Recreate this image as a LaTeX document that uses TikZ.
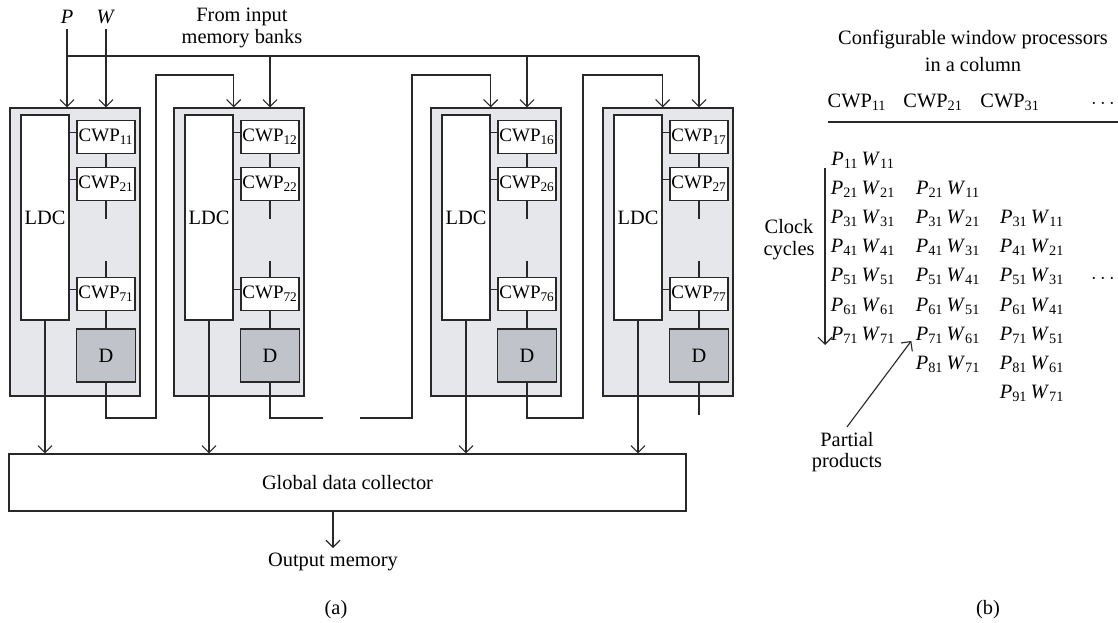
\documentclass[tikz,border=0pt]{standalone}
\usepackage{fontspec}
\setmainfont{Liberation Serif}
\usepackage{tikz}
\usetikzlibrary{arrows.meta,positioning,calc}
\definecolor{lnGray}{RGB}{40,40,40}
\definecolor{modFill}{RGB}{230,231,234}
\definecolor{dFill}{RGB}{192,196,202}
\newcommand{\pxl}[1]{#1*0.025cm}
\tikzset{
  wire/.style={line width=0.8pt, lnGray},
  arr/.style={-{Straight Barb[length=5pt,width=10pt]}, line width=0.8pt, lnGray},
  modbox/.style={draw=lnGray, fill=modFill, line width=0.9pt, inner sep=0pt,
    minimum width=\pxl{130}, minimum height=\pxl{288}},
  ldcbox/.style={draw=lnGray, fill=white, line width=0.9pt, inner sep=0pt,
    minimum width=\pxl{48}, minimum height=\pxl{205}},
  cwpbox/.style={draw=lnGray, fill=white, line width=0.9pt, inner sep=0pt,
    minimum width=\pxl{58}, minimum height=\pxl{33}, font=\fontsize{13.5}{15}\selectfont},
  dbox/.style={draw=lnGray, fill=dFill, line width=0.9pt, inner sep=0pt,
    minimum width=\pxl{59}, minimum height=\pxl{53}},
  gdcbox/.style={draw=lnGray, line width=0.9pt, inner sep=0pt,
    minimum width=\pxl{677}, minimum height=\pxl{57}},
  pwcell/.style={inner sep=1pt},
}

\begin{document}
\begin{tikzpicture}[x=0.025cm, y=-0.025cm, font=\fontsize{14.5}{15.5}\selectfont]
  \useasboundingbox (0,0) rectangle (1118,623);
  % inputs
  \node (plab) at (67,17) {\textit{P}};
  \node (wlab) at (106,17) {\textit{W}};
  \node[align=center] (src) at (242,28) {From input\\memory banks};
  % the columns
  \foreach \i/\xo/\ca/\cb/\cc in {1/10/11/21/71,2/174/12/22/72,3/431/16/26/76,4/603/17/27/77} {
    \node[modbox] (m\i) at ({\xo+65},252) {};
    \node[ldcbox] (l\i) at ({\xo+35},217.5) {LDC};
    \node[cwpbox] (ca\i) at ({\xo+96},137) {CWP\textsubscript{\ca}};
    \node[cwpbox] (cb\i) at ({\xo+96},184) {CWP\textsubscript{\cb}};
    \node[cwpbox] (cc\i) at ({\xo+96},294) {CWP\textsubscript{\cc}};
    \node[dbox] (d\i) at ({\xo+96},355.5) {D};
    \draw[wire] (ca\i) -- (cb\i);
    \draw[wire] (cb\i.south) -- ++(0,18);
    \draw[wire] (cc\i.north) -- ++(0,-16);
    \draw[wire] (cc\i) -- (d\i);
    \foreach \cw in {ca,cb,cc} {
      \coordinate (t) at ([yshift=3pt]\cw\i.west);
      \draw[wire] (t) -- (t -| l\i.east);
    }
  }
  \draw[arr] (plab.south) -- (plab.south |- m1.north);
  \draw[arr] (wlab.south) -- (wlab.south |- m1.north);
  % bus from the memory banks
  \coordinate (bus0) at (67,56);
  \draw[wire] (bus0) -- (ca4.north |- bus0);
  \foreach \i in {2,3,4}
    \draw[arr] (ca\i.north |- bus0) -- (ca\i.north |- m\i.north);
  % delayed data to the next column
  \coordinate (fb2) at (156,418);
  \coordinate (ft2) at (156,75);
  \draw[arr] (d1.south) |- (fb2) -- (ft2) -| (l2.east |- m2.north);
  \coordinate (g1) at (323,418);
  \coordinate (g2) at (360,418);
  \draw[wire] (d2.south) |- (g1);
  \coordinate (fb3) at (412,418);
  \coordinate (ft3) at (412,75);
  \draw[arr] (g2) -- (fb3) -- (ft3) -| (l3.east |- m3.north);
  \coordinate (fb4) at (583,418);
  \coordinate (ft4) at (583,75);
  \draw[arr] (d3.south) |- (fb4) -- (ft4) -| (l4.east |- m4.north);
  \coordinate (g3) at (699,415);
  \draw[wire] (d4.south) -- (g3);
  % collector
  \node[gdcbox] (gdc) at (347.5,482.5) {Global data collector};
  \foreach \i in {1,...,4}
    \draw[arr] (l\i.south) -- (l\i.south |- gdc.north);
  \node (out) at (333,562) {Output memory};
  \draw[arr] (out.north |- gdc.south) -- (out.north);
  \node (capa) at (336,610) {(a)};

  % (b) schedule
  \node[align=center] (cfg) at (973,51) {Configurable window processors\\[4pt]in a column};
  \node (h1) at (857,102) {CWP\textsubscript{11}};
  \node (h2) at (933,102) {CWP\textsubscript{21}};
  \node (h3) at (1010,102) {CWP\textsubscript{31}};
  \node (hd) at (1103,104) {$\cdots$};
  \coordinate (rl) at (828,122);
  \coordinate (rr) at (1118,122);
  \draw[wire] (rl) -- (rr);
  \foreach \col/\cx in {1/863,2/948,3/1032}
    \foreach \k in {1,...,7} {
      \pgfmathtruncatemacro{\rowno}{\k+\col-1}
      \node[pwcell] (pw\col\k) at (\cx,{160+29.2*(\rowno-1)})
        {\textit{P}\textsubscript{\rowno1}\,\textit{W}\textsubscript{\k1}};
    }
  \node (rd) at (1103,279) {$\cdots$};
  \node[align=center] (clk) at (789,240) {Clock\\cycles};
  \coordinate (ck0) at (825,168);
  \coordinate (ck1) at (825,345);
  \draw[arr] (ck0) -- (ck1);
  \node[align=center] (pp) at (847,452) {Partial\\products};
  \draw[arr] (pp.north) -- ([shift={(-2pt,3pt)}]pw26.south west);
  \node (capb) at (988,610) {(b)};
\end{tikzpicture}
\end{document}
